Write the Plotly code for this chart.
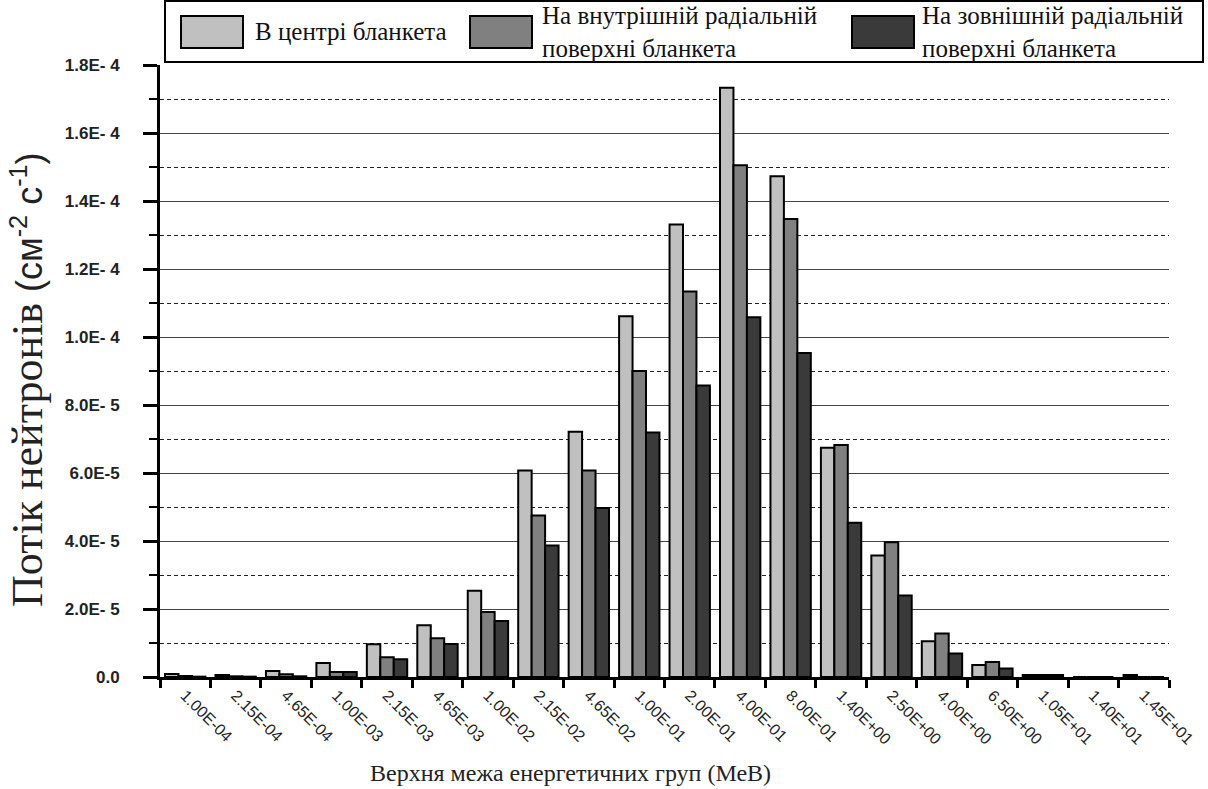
import plotly.graph_objects as go

# Upper bounds of the energy groups (MeV)
groups = ["1.00E-04", "2.15E-04", "4.65E-04", "1.00E-03", "2.15E-03", "4.65E-03",
          "1.00E-02", "2.15E-02", "4.65E-02", "1.00E-01", "2.00E-01", "4.00E-01",
          "8.00E-01", "1.40E+00", "2.50E+00", "4.00E+00", "6.50E+00", "1.05E+01",
          "1.40E+01", "1.45E+01"]

# Neutron flux, cm^-2 s^-1
flux_centre = [9e-7, 6e-7, 1.8e-6, 4.1e-6, 9.6e-6, 1.52e-5, 2.54e-5, 6.07e-5, 7.21e-5, 1.061e-4,
               1.331e-4, 1.733e-4, 1.473e-4, 6.74e-5, 3.57e-5, 1.05e-5, 3.5e-6, 6e-7, 0.0, 6e-7]
flux_inner = [3e-7, 2e-7, 8e-7, 1.5e-6, 5.8e-6, 1.14e-5, 1.91e-5, 4.75e-5, 6.07e-5, 9.0e-5,
              1.134e-4, 1.505e-4, 1.347e-4, 6.82e-5, 3.96e-5, 1.28e-5, 4.4e-6, 6e-7, 0.0, 0.0]
flux_outer = [1e-7, 1e-7, 2e-7, 1.5e-6, 5.2e-6, 9.7e-6, 1.645e-5, 3.87e-5, 4.97e-5, 7.19e-5,
              8.57e-5, 1.058e-4, 9.53e-5, 4.54e-5, 2.40e-5, 6.9e-6, 2.5e-6, 6e-7, 0.0, 0.0]

series_names = ["В центрі бланкета",
                "На внутрішній радіальній<br>поверхні бланкета",
                "На зовнішній радіальній<br>поверхні бланкета"]
series_colors = ["#C0C0C0", "#808080", "#3A3A3A"]

y_major = [0, 2e-5, 4e-5, 6e-5, 8e-5, 1.0e-4, 1.2e-4, 1.4e-4, 1.6e-4, 1.8e-4]
y_labels = ["0.0", "2.0E- 5", "4.0E- 5", "6.0E-5", "8.0E- 5", "1.0E- 4", "1.2E- 4", "1.4E- 4",
            "1.6E- 4", "1.8E- 4"]
y_minor = [1e-5, 3e-5, 5e-5, 7e-5, 9e-5, 1.1e-4, 1.3e-4, 1.5e-4, 1.7e-4]

W, H = 1208, 789
L, R, T, B = 160, 1169, 65, 677


def px_x(px):
    return (px - L) / (R - L)


def px_y(py):
    return (B - py) / (B - T)


fig = go.Figure()
for name, vals, col in zip(series_names, [flux_centre, flux_inner, flux_outer], series_colors):
    fig.add_trace(go.Bar(x=groups, y=vals, name=name, showlegend=False,
                         marker=dict(color=col, line=dict(color="black", width=2))))

serif = "Liberation Serif"
sans = "Liberation Sans"

fig.update_layout(
    width=W, height=H,
    margin=dict(l=L, r=W - R, t=T, b=H - B),
    paper_bgcolor="white", plot_bgcolor="white",
    barmode="group", bargap=0.2, bargroupgap=0.0,
    xaxis=dict(type="category", tickson="boundaries", ticks="outside", ticklen=8,
               tickwidth=3, tickcolor="black", showgrid=False,
               showline=True, linecolor="black", linewidth=3,
               tickangle=45, tickfont=dict(family=sans, size=16, color="#222")),
    xaxis2=dict(overlaying="x", anchor="y", range=[-0.5, len(groups) - 0.5],
                tickmode="array", tickvals=[i - 0.5 for i in range(len(groups) + 1)],
                ticks="inside", ticklen=7, tickwidth=3, tickcolor="black",
                showticklabels=False, showgrid=False, showline=False, zeroline=False),
    yaxis=dict(range=[0, 1.8e-4], tickmode="array", tickvals=y_major, ticktext=y_labels,
               ticks="outside", ticklen=14, tickwidth=2.5, tickcolor="black",
               showgrid=True, gridcolor="#444", gridwidth=1.3, zeroline=False,
               showline=True, linecolor="black", linewidth=3,
               ticklabelstandoff=20,
               tickfont=dict(family=sans, size=17, color="#222", weight="bold"),
               minor=dict(tickmode="array", tickvals=y_minor, ticks="outside", ticklen=8,
                          tickwidth=2, tickcolor="black", showgrid=True,
                          gridcolor="#222", gridwidth=1.3, griddash="4px,3px")),
    yaxis2=dict(overlaying="y", anchor="x", side="left", range=[0, 1.8e-4],
                tickmode="array", tickvals=y_major, ticks="inside", ticklen=8,
                tickwidth=2.5, tickcolor="black", showticklabels=False, showgrid=False,
                showline=False, zeroline=False,
                minor=dict(tickmode="array", tickvals=y_minor, ticks="inside", ticklen=6,
                           tickwidth=2, tickcolor="black", showgrid=False)),
)

# Axis titles
fig.add_annotation(
    x=px_x(28), y=px_y(380), xref="paper", yref="paper", xanchor="center", yanchor="middle",
    textangle=-90, showarrow=False,
    text="Потік нейтронів <span style='font-family:Liberation Sans;font-size:36px'>(см<sup>-2</sup> с<sup>-1</sup>)</span>",
    font=dict(family=serif, size=44, color="#222"))
fig.add_annotation(
    x=px_x(570), y=px_y(773), xref="paper", yref="paper", xanchor="center", yanchor="middle",
    showarrow=False, text="Верхня межа енергетичних груп (МеВ)",
    font=dict(family=serif, size=24, color="#222"))

# Legend box with swatches
shapes = [dict(type="rect", xref="paper", yref="paper",
               x0=px_x(165), x1=px_x(1203), y0=px_y(62), y1=px_y(1),
               line=dict(color="black", width=2), fillcolor="white", layer="above")]
sw_left = [181, 470, 852]
tx_left = [253, 540, 920]
for xl, tl, col, name in zip(sw_left, tx_left, series_colors, series_names):
    shapes.append(dict(type="rect", xref="paper", yref="paper",
                       x0=px_x(xl), x1=px_x(xl + 62), y0=px_y(48), y1=px_y(16),
                       line=dict(color="black", width=2), fillcolor=col, layer="above"))
    fig.add_annotation(x=px_x(tl), y=px_y(32), xref="paper", yref="paper",
                       xanchor="left", yanchor="middle", align="left", showarrow=False,
                       text=name, font=dict(family=serif, size=25, color="#111"))
fig.update_layout(shapes=shapes)

fig.write_html("out.html")
